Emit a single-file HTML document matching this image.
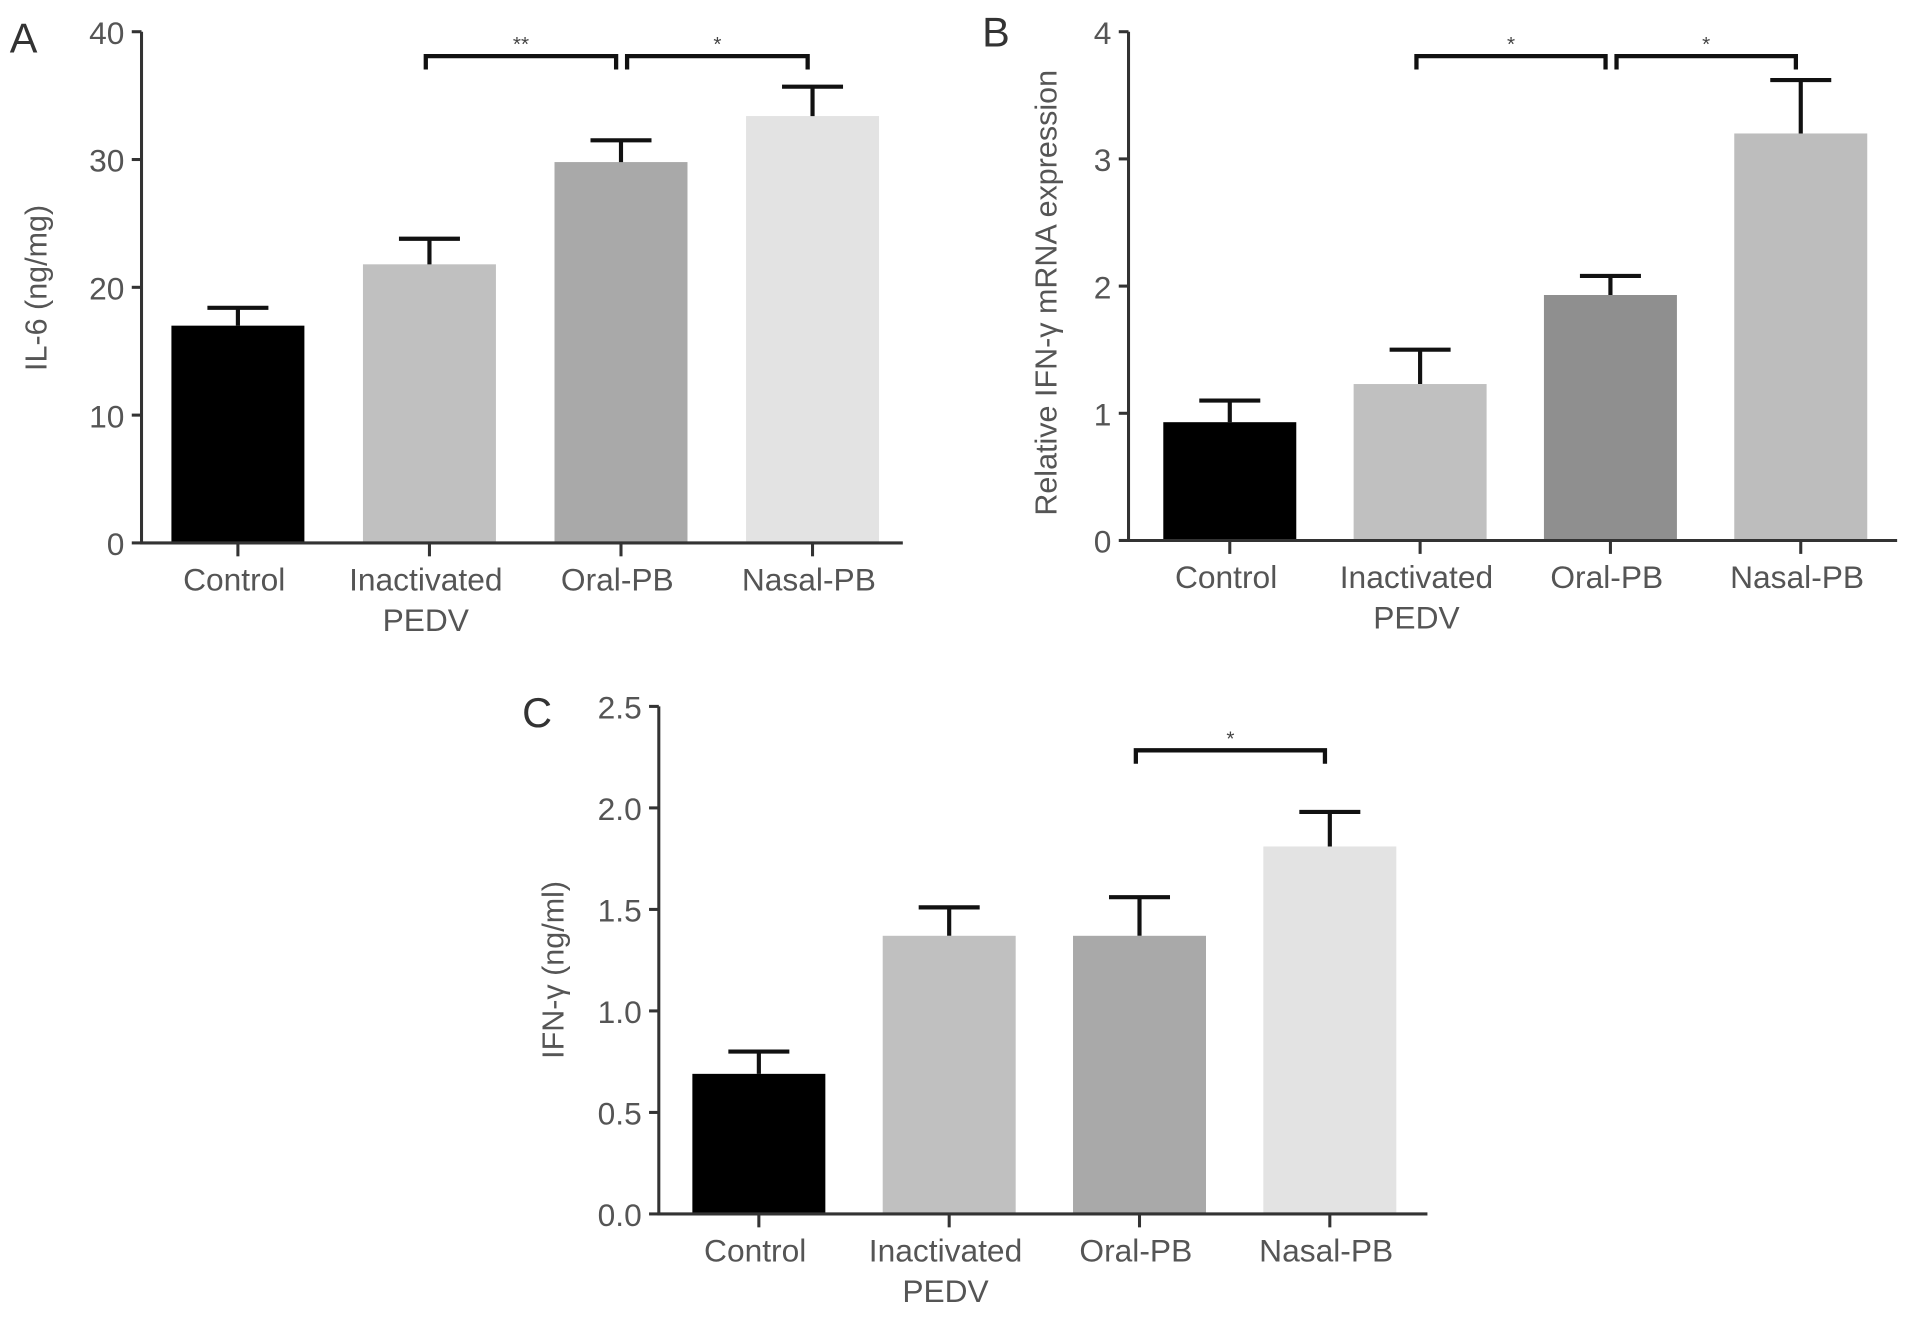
<!DOCTYPE html>
<html><head><meta charset="utf-8">
<style>
html,body{margin:0;padding:0;background:#fff;}
svg{display:block;font-family:"Liberation Sans",sans-serif;}
</style></head>
<body>
<svg id="fig" width="1913" height="1318" viewBox="0 0 1568 1080.3" preserveAspectRatio="none" xmlns="http://www.w3.org/2000/svg"></svg>
<script>
// Panel A data
const catsA = ["Control", "Inactivated|PEDV", "Oral-PB", "Nasal-PB"];
const valsA = [17.0, 21.8, 29.8, 33.4];
const errA = [1.4, 2.0, 1.7, 2.3];
const ticksA = [0, 10, 20, 30, 40];
const tickLabelsA = ["0", "10", "20", "30", "40"];
// Panel B data
const catsB = ["Control", "Inactivated|PEDV", "Oral-PB", "Nasal-PB"];
const valsB = [0.93, 1.23, 1.93, 3.2];
const errB = [0.17, 0.27, 0.15, 0.42];
const ticksB = [0, 1, 2, 3, 4];
const tickLabelsB = ["0", "1", "2", "3", "4"];
// Panel C data
const catsC = ["Control", "Inactivated|PEDV", "Oral-PB", "Nasal-PB"];
const valsC = [0.69, 1.37, 1.37, 1.81];
const errC = [0.11, 0.14, 0.19, 0.17];
const ticksC = [0, 0.5, 1.0, 1.5, 2.0, 2.5];
const tickLabelsC = ["0.0", "0.5", "1.0", "1.5", "2.0", "2.5"];

const NS = "http://www.w3.org/2000/svg";
const svg = document.getElementById("fig");
function mk(tag, attrs, parent) {
  const e = document.createElementNS(NS, tag);
  for (const k in attrs) e.setAttribute(k, attrs[k]);
  (parent || svg).appendChild(e);
  return e;
}

function panel(cfg) {
  const g = mk("g", {});
  
  
  const ymax = cfg.ticks[cfg.ticks.length - 1];
  const y = v => cfg.y0 - (v / ymax) * (cfg.y0 - cfg.yTop);
  const cx = i => cfg.c0 + cfg.step * i;
  const bw = 109;
  cfg.vals.forEach((v, i) => {
    const r = mk("rect", {x: cx(i) - bw / 2, y: y(v), width: bw, height: cfg.y0 - y(v), fill: cfg.colors[i]}, g);
    
    
    const top = y(v + cfg.err[i]);
    const eb = mk("path", {d: `M${cx(i)},${y(v)} V${top} M${cx(i) - 25},${top} H${cx(i) + 25}`, stroke: "#111", "stroke-width": 3.4, fill: "none"}, g);
    
    
  });
  const ax = mk("path", {d: `M${cfg.x0},${cfg.yTop} V${cfg.y0} H${cfg.xEnd}`, stroke: "#333", "stroke-width": 2.5, fill: "none"}, g);
  
  
  cfg.ticks.forEach((t, i) => {
    mk("line", {x1: cfg.x0 - 8, x2: cfg.x0, y1: y(t), y2: y(t), stroke: "#333", "stroke-width": 2.5}, g);
    const tl = mk("text", {x: cfg.x0 - 14, y: y(t) + 10, "text-anchor": "end", "font-size": 26, fill: "#555"}, g);
    tl.textContent = cfg.tickLabels[i];
    
    
  });
  cfg.cats.forEach((c, i) => {
    mk("line", {x1: cx(i), x2: cx(i), y1: cfg.y0, y2: cfg.y0 + 11, stroke: "#333", "stroke-width": 2.5}, g);
    c.split("|").forEach((ln, j) => {
      const t = mk("text", {x: cx(i) - 3, y: cfg.y0 + 39 + j * 33, "text-anchor": "middle", "font-size": 26, fill: "#555"}, g);
      t.textContent = ln;
      
      
    });
  });
  const yt = mk("text", {x: 0, y: 0, "text-anchor": "middle", "font-size": 25, fill: "#555", transform: `translate(${cfg.ytx},${cfg.yty}) rotate(-90)`}, g);
  yt.textContent = cfg.ytitle;
  
  
  const L = mk("text", {x: cfg.lx, y: cfg.ly, "font-size": 34, fill: "#333"}, g);
  L.textContent = cfg.letter;
  
  
  cfg.brackets.forEach(b => {
    const x1 = cx(b[0]) - 3 + (b[3] || 0), x2 = cx(b[1]) - 4 + (b[4] || 0);
    const br = mk("path", {d: `M${x1},${cfg.by + 11} V${cfg.by} H${x2} V${cfg.by + 11}`, stroke: "#111", "stroke-width": 3.5, fill: "none"}, g);
    
    
    const st = mk("text", {x: (x1 + x2) / 2, y: cfg.by - 4, "text-anchor": "middle", "font-size": 17, fill: "#444"}, g);
    st.textContent = b[2];
    
    
  });
}

panel({name: "panel-a-il6", cats: catsA, vals: valsA, err: errA, ticks: ticksA, tickLabels: tickLabelsA,
  x0: 116, xEnd: 740, y0: 445, yTop: 26, c0: 195, step: 157, colors: ["#000", "#c0c0c0", "#a9a9a9", "#e3e3e3"],
  ytitle: "IL-6 (ng/mg)", ytx: 38, yty: 236, letter: "A", lx: 8, ly: 43, by: 46,
  brackets: [[1, 2, "**", 0, 0], [2, 3, "*", 8, 0]]});
panel({name: "panel-b-ifn-mrna", cats: catsB, vals: valsB, err: errB, ticks: ticksB, tickLabels: tickLabelsB,
  x0: 925, xEnd: 1555, y0: 443, yTop: 26, c0: 1008, step: 156, colors: ["#000", "#c0c0c0", "#8f8f8f", "#bdbdbd"],
  ytitle: "Relative IFN-γ mRNA expression", ytx: 866, yty: 240, letter: "B", lx: 805, ly: 38, by: 46,
  brackets: [[1, 2, "*", 0, 0], [2, 3, "*", 8, 0]]});
panel({name: "panel-c-ifn-protein", cats: catsC, vals: valsC, err: errC, ticks: ticksC, tickLabels: tickLabelsC,
  x0: 540, xEnd: 1170, y0: 995, yTop: 579, c0: 622, step: 156, colors: ["#000", "#c0c0c0", "#a9a9a9", "#e3e3e3"],
  ytitle: "IFN-γ (ng/ml)", ytx: 462, yty: 795, letter: "C", lx: 428, ly: 596, by: 615,
  brackets: [[2, 3, "*", 0, 0]]});
</script>
</body></html>
